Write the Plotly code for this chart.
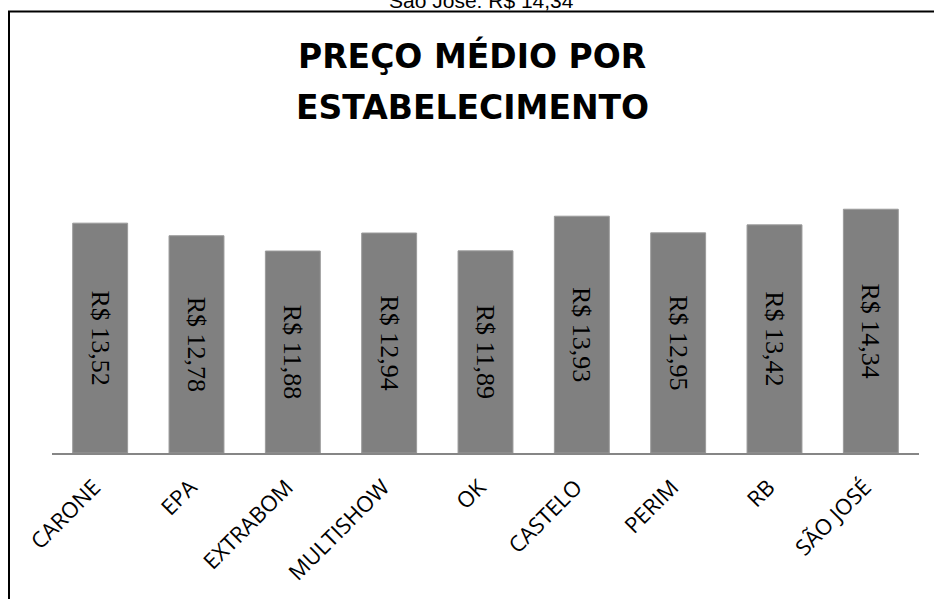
import plotly.graph_objects as go

categories = ["CARONE", "EPA", "EXTRABOM", "MULTISHOW", "OK", "CASTELO", "PERIM", "RB", "SÃO JOSÉ"]
values = [13.52, 12.78, 11.88, 12.94, 11.89, 13.93, 12.95, 13.42, 14.34]
labels = ["R$ " + f"{v:.2f}".replace(".", ",") for v in values]
title_lines = ["PREÇO MÉDIO POR", "ESTABELECIMENTO"]
top_note = "São José: R$ 14,34"

W, H = 934, 599
ml, mr, mt, mb = 52, 15, 181, 146
pw = W - ml - mr
ph = H - mt - mb

def px_x(p):
    return (p - ml) / pw

def px_y(p):
    return (H - mb - p) / ph

fig = go.Figure(go.Bar(
    x=categories, y=values, text=labels,
    textposition="inside", insidetextanchor="middle", textangle=90,
    textfont=dict(family="Liberation Serif", size=26, color="black"),
    marker=dict(color="#808080", line=dict(color="#9a9a9a", width=1)),
    cliponaxis=False,
))

title_font = dict(family="DejaVu Sans", size=33, color="black", weight="bold")

fig.update_layout(
    width=W, height=H,
    margin=dict(l=ml, r=mr, t=mt, b=mb, autoexpand=False),
    paper_bgcolor="white", plot_bgcolor="white",
    bargap=0.43,
    showlegend=False,
    uniformtext=dict(mode=False),
    xaxis=dict(showline=True, linecolor="#868686", linewidth=1.5, ticks="",
               tickangle=-45, tickfont=dict(family="Open Sans", size=22, color="black"),
               ticklabelstandoff=11, ticklabelshift=-6,
               showgrid=False, fixedrange=True),
    yaxis=dict(range=[0, 16], visible=False, showgrid=False, fixedrange=True),
    annotations=[
        dict(text=title_lines[0], xref="paper", yref="paper", x=px_x(472), y=px_y(56),
             xanchor="center", yanchor="middle", showarrow=False, font=title_font),
        dict(text=title_lines[1], xref="paper", yref="paper", x=px_x(472), y=px_y(107),
             xanchor="center", yanchor="middle", showarrow=False, font=title_font),
        dict(text=top_note, xref="paper", yref="paper", x=px_x(481), y=px_y(1),
             xanchor="center", yanchor="middle", showarrow=False,
             font=dict(family="Liberation Sans", size=21, color="black")),
    ],
    shapes=[
        dict(type="path", xref="paper", yref="paper",
             path=f"M {px_x(9)} {px_y(620)} L {px_x(9)} {px_y(11.5)} L {px_x(950)} {px_y(11.5)}",
             line=dict(color="black", width=2)),
    ],
)

fig.write_html("out.html", config={"displayModeBar": False},
               post_script="document.body.style.margin='0px';")
